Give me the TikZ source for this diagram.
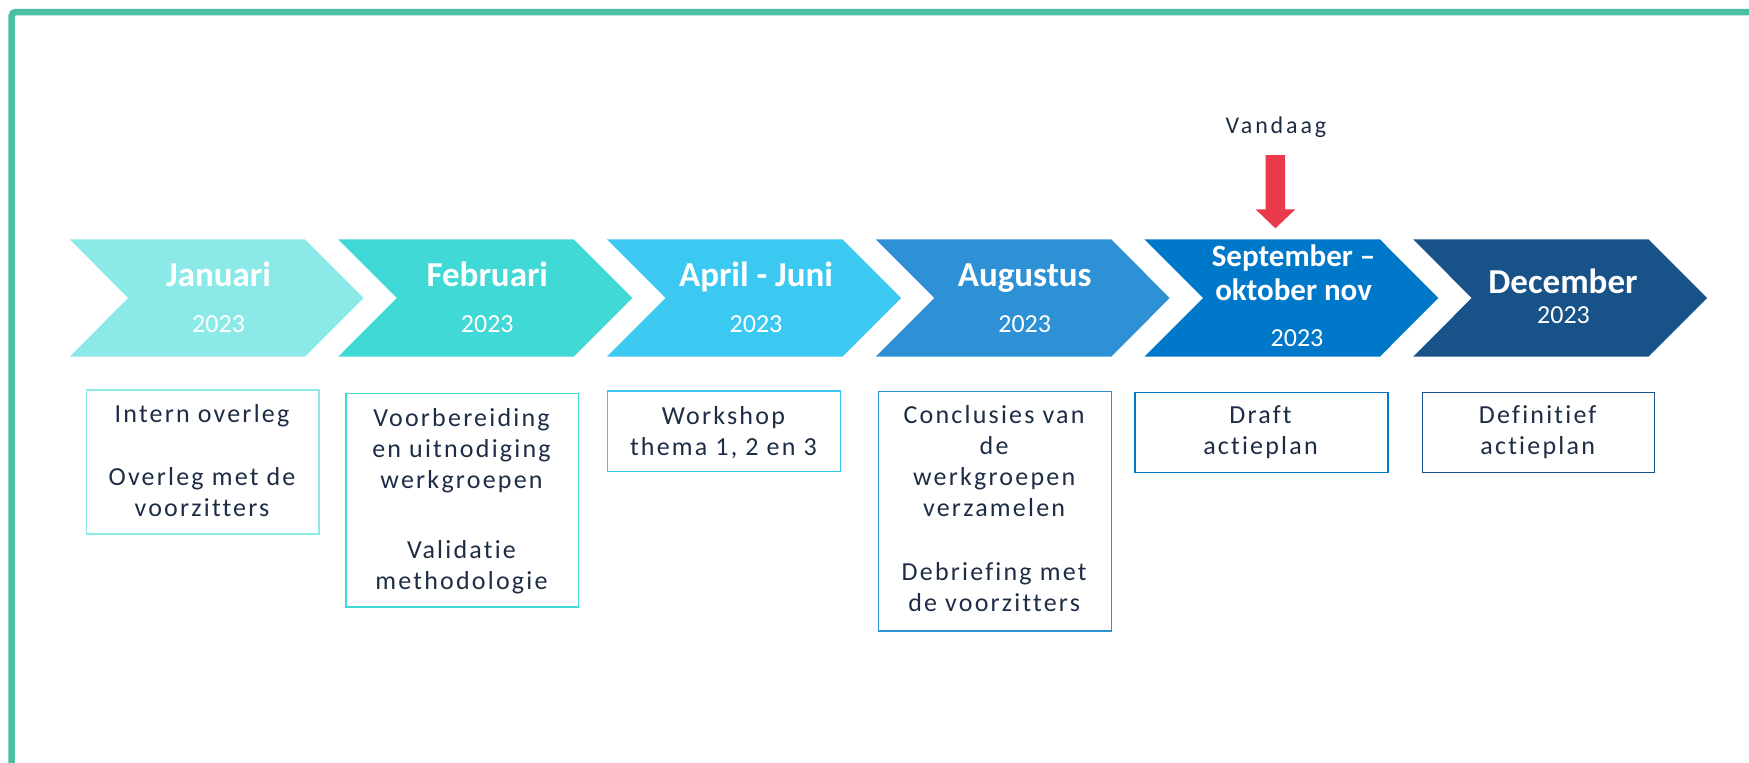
\documentclass[tikz,border=0pt]{standalone}
\usepackage{fontspec}
\setmainfont{Carlito}[Ligatures=NoCommon]
\newfontfamily\spacedfont[LetterSpace=8.5,Ligatures=NoCommon]{Carlito}
\newfontfamily\vandaagfont[LetterSpace=12,Ligatures=NoCommon]{Carlito}
\definecolor{frameGreen}{RGB}{74,191,161}
\definecolor{cJan}{RGB}{139,233,231}
\definecolor{cFeb}{RGB}{65,217,214}
\definecolor{cApr}{RGB}{59,201,242}
\definecolor{cAug}{RGB}{46,145,213}
\definecolor{cSep}{RGB}{0,120,202}
\definecolor{cDec}{RGB}{23,83,137}
\definecolor{navyText}{RGB}{30,45,70}
\definecolor{todayRed}{RGB}{232,58,74}
\begin{document}
\begin{tikzpicture}[x=1pt,y=-1pt,
  frameline/.style={draw=frameGreen,line width=6.5pt,rounded corners=4pt},
  title/.style={anchor=base,text=white,inner sep=0pt,font=\fontsize{35}{42}\selectfont\bfseries},
  yeartext/.style={anchor=base,text=white,inner sep=0pt,font=\fontsize{26}{31}\selectfont},
  taskbox/.style={draw,line width=1.5pt,anchor=north west,inner sep=0pt,fill=none},
  tasktext/.style={anchor=north,align=center,inner sep=0pt,text=navyText,font=\fontsize{26}{31}\spacedfont}]
\useasboundingbox (0,0) rectangle (1749,763);
\clip (0,0) rectangle (1749,763);
\fill[white] (0,0) rectangle (1749,763);
% frame
\draw[frameline] (11.7,800) -- (11.7,12) -- (1800,12);
% chevrons
\foreach \L/\c in {69.6/cJan,338.3/cFeb,607.0/cApr,875.7/cAug,1144.4/cSep,1413.1/cDec}{
  \fill[\c] (\L,239.3) -- ++(235.4,0) -- ++(58.6,58.7) -- ++(-58.6,58.7) -- ++(-235.4,0) -- ++(58.6,-58.7) -- cycle;
}
% chevron titles
\node[title] (jan) at (218.6,286.7) {Januari};
\node[yeartext] (janY) at (218.6,332.3) {2023};
\node[title] (feb) at (487.3,286.7) {Februari};
\node[yeartext] (febY) at (487.3,332.3) {2023};
\node[title] (apr) at (756.0,286.7) {April - Juni};
\node[yeartext] (aprY) at (756.0,332.3) {2023};
\node[title] (aug) at (1024.7,286.7) {Augustus};
\node[yeartext] (augY) at (1024.7,332.3) {2023};
\node[anchor=north,align=center,text=white,inner sep=0pt,font=\fontsize{31}{33.3}\selectfont\bfseries] (sep) at (1293.6,244.7) {\rule{0pt}{22pt}September --\\oktober nov};
\node[yeartext] (sepY) at (1297,346.7) {2023};
\node[title] (dec) at (1563.0,293.3) {December};
\node[yeartext] (decY) at (1563.5,323.3) {2023};
% today marker
\node[anchor=base,inner sep=0pt,text=navyText,font=\fontsize{24}{28}\vandaagfont] (today) at (1276,133.3) {Vandaag};
\fill[todayRed] (1265.6,155) -- (1285.1,155) -- (1285.1,209.3) -- (1295.4,209.3) -- (1275.4,228.3) -- (1255.6,209.3) -- (1265.6,209.3) -- cycle;
% task boxes
\node[taskbox,draw=cJan,minimum width=232.7pt,minimum height=144pt] (b1) at (85.6,389.3) {};
\node[taskbox,draw=cFeb,minimum width=232.7pt,minimum height=213.3pt] (b2) at (345.1,392.7) {};
\node[taskbox,draw=cApr,minimum width=233.1pt,minimum height=80.3pt] (b3) at (606.8,390.4) {};
\node[taskbox,draw=cAug,minimum width=232.8pt,minimum height=239.3pt] (b4) at (877.7,390.7) {};
\node[taskbox,draw=cSep,minimum width=253pt,minimum height=80pt] (b5) at (1134,391.7) {};
\node[taskbox,draw=cDec,minimum width=232.2pt,minimum height=80pt] (b6) at (1421.6,391.7) {};
% task texts
\node[tasktext] (t1) at (202,402.3) {\rule{0pt}{20pt}Intern overleg\\[32.4pt]Overleg met de\\voorzitters};
\node[tasktext] (t2) at (461.5,406.7) {\rule{0pt}{20pt}Voorbereiding\\en uitnodiging\\werkgroepen\\[39pt]Validatie\\methodologie};
\node[tasktext] (t3) at (723.4,404) {\rule{0pt}{20pt}Workshop\\thema 1, 2 en 3};
\node[tasktext] (t4) at (994.1,403.3) {\rule{0pt}{20pt}Conclusies van\\de\\werkgroepen\\verzamelen\\[33pt]Debriefing met\\de voorzitters};
\node[tasktext] (t5) at (1260.5,403.3) {\rule{0pt}{20pt}Draft\\actieplan};
\node[tasktext] (t6) at (1537.7,403.3) {\rule{0pt}{20pt}Definitief\\actieplan};
\end{tikzpicture}
\end{document}
